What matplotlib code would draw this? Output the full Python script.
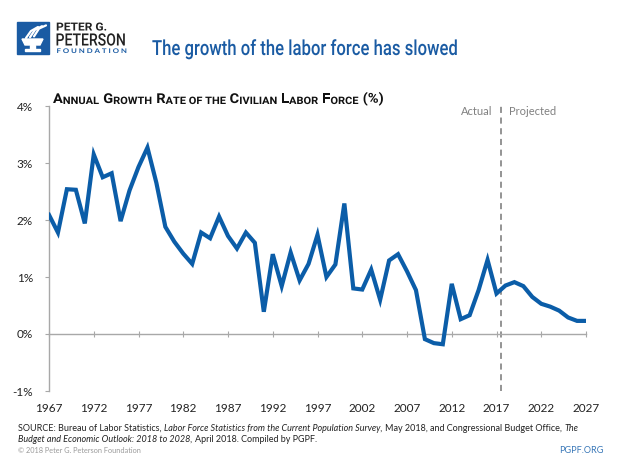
import matplotlib
matplotlib.use("Agg")
import matplotlib.pyplot as plt
from matplotlib.patches import Rectangle, Polygon
from matplotlib.ticker import FixedLocator, FuncFormatter
from matplotlib.patheffects import AbstractPathEffect
from matplotlib.transforms import Affine2D

# ---------------- data ----------------
years = list(range(1967, 2028))
growth = [2.09, 1.78, 2.54, 2.53, 1.94, 3.15, 2.75, 2.82, 1.98, 2.52,
          2.93, 3.27, 2.65, 1.88, 1.62, 1.41, 1.23, 1.78, 1.68, 2.06,
          1.72, 1.50, 1.78, 1.60, 0.39, 1.40, 0.84, 1.43, 0.94, 1.23,
          1.74, 1.00, 1.22, 2.29, 0.80, 0.78, 1.13, 0.60, 1.29, 1.40,
          1.10, 0.77, -0.09, -0.16, -0.18, 0.88, 0.26, 0.33, 0.77, 1.30,
          0.71, 0.85, 0.91, 0.84, 0.65, 0.53, 0.48, 0.41, 0.29, 0.23,
          0.23]
x_ticks = [1967, 1972, 1977, 1982, 1987, 1992, 1997, 2002, 2007, 2012, 2017, 2022, 2027]
y_ticks = [-1, 0, 1, 2, 3, 4]
split_year = 2017.5

title = "The growth of the labor force has slowed"
subtitle_parts = [("A", 1, 0), ("NNUAL", 0, 0), ("G", 1, 1), ("ROWTH", 0, 0),
                  ("R", 1, 1), ("ATE OF THE", 0, 0), ("C", 1, 1), ("IVILIAN", 0, 0),
                  ("L", 1, 1), ("ABOR", 0, 0), ("F", 1, 1), ("ORCE", 0, 0),
                  ("(%)", 1, 1)]

W, H = 620, 465
LINE_BLUE = "#0b5da8"
TITLE_BLUE = "#1a5ba3"
GRAY = "#a8a8a8"
HEAD = ["Roboto", "DejaVu Sans"]
BODY = ["Lato", "DejaVu Sans"]


class Condense(AbstractPathEffect):
    """Scale glyph outlines horizontally about a fixed display x."""

    def __init__(self, sx, x0):
        super().__init__()
        self.sx, self.x0 = sx, x0

    def draw_path(self, renderer, gc, tpath, affine, rgbFace=None):
        t = affine + Affine2D().translate(-self.x0, 0).scale(self.sx, 1).translate(self.x0, 0)
        renderer.draw_path(gc, tpath, t, rgbFace)


fig = plt.figure(figsize=(W / 100, H / 100), dpi=100)
fig.patch.set_facecolor("white")

bg = fig.add_axes([0, 0, 1, 1])
bg.set_xlim(0, W)
bg.set_ylim(H, 0)
bg.axis("off")

# ---------------- main chart ----------------
ax = fig.add_axes([49 / W, 1 - 391 / H, 537 / W, 285 / H])
ax.plot(years, growth, color=LINE_BLUE, lw=3.0, solid_joinstyle="miter", zorder=3)
ax.set_xlim(x_ticks[0], x_ticks[-1])
ax.set_ylim(y_ticks[0], y_ticks[-1])

for s in ["top", "right"]:
    ax.spines[s].set_visible(False)
ax.spines["left"].set_color(GRAY)
ax.spines["left"].set_linewidth(1.0)
ax.spines["bottom"].set_position(("data", 0))
ax.spines["bottom"].set_color(GRAY)
ax.spines["bottom"].set_linewidth(1.0)

ax.xaxis.set_major_locator(FixedLocator(x_ticks))
ax.tick_params(axis="x", direction="inout", length=4, color=GRAY, labelbottom=False)
ax.yaxis.set_major_locator(FixedLocator(y_ticks))
ax.yaxis.set_major_formatter(FuncFormatter(lambda v, p: f"{int(v)}%"))
ax.tick_params(axis="y", direction="out", length=3, color=GRAY, pad=8.5,
               labelsize=8.5, labelcolor="#222222")
for lab in ax.get_yticklabels():
    lab.set_family(BODY)

sec = ax.secondary_xaxis("bottom")
sec.set_xticks(x_ticks)
sec.set_xticklabels([str(t) for t in x_ticks])
sec.spines["bottom"].set_visible(False)
sec.tick_params(axis="x", length=0, pad=9, labelsize=8.5, labelcolor="#222222")
for lab in sec.get_xticklabels():
    lab.set_family(BODY)

ax.axvline(split_year, color="#777777", lw=1.1, ls=(0, (4, 3)), zorder=2)
ax.text(split_year - 0.9, 3.9, "Actual", ha="right", va="center", fontsize=8,
        color="#808080", family=BODY)
ax.text(split_year + 0.9, 3.9, "Projected", ha="left", va="center", fontsize=8,
        color="#808080", family=BODY)

# ---------------- header ----------------
bg.add_patch(Rectangle((17, 22), 32, 32, color=TITLE_BLUE, zorder=1))
for dx in (0, 4, 8):
    bg.plot([26 + dx, 31 + dx, 38 + dx], [38 - dx * 0.2, 31 - dx * 0.3, 27 - dx * 0.2],
            color="white", lw=1.6, solid_capstyle="round", zorder=2)
bg.add_patch(Polygon([(22, 39), (43, 39), (40, 45), (25, 45)], closed=True,
                     color="white", zorder=2))
bg.add_patch(Rectangle((30, 45), 5, 4, color="white", zorder=2))
bg.add_patch(Rectangle((25, 49), 15, 2.5, color="white", zorder=2))

header_items = []  # (list of texts, x_left, x_right_target)

t_peter = bg.text(56, 30.5, "PETER G.", fontsize=8, fontweight="bold", family=HEAD,
                  color="#222222", va="baseline", ha="left")
header_items.append(([t_peter], 56, 107))
t_peterson = bg.text(55.5, 45.5, "PETERSON", fontsize=12.2, family=HEAD,
                     fontweight="medium", color="#222222", va="baseline", ha="left")
header_items.append(([t_peterson], 55.5, 126))
t_found = bg.text(56.5, 53, " ".join("FOUNDATION"), fontsize=4.6, fontweight="bold",
                  family=BODY, color=TITLE_BLUE, va="baseline", ha="left")
header_items.append(([t_found], 56.5, 126))

t_title = bg.text(152, 55, title, fontsize=15, family=HEAD, fontweight="medium",
                  color=TITLE_BLUE, va="baseline", ha="left")
header_items.append(([t_title], 152, 459))

sub_texts = []
prev = bg.text(53, 103, subtitle_parts[0][0], fontsize=9.8, fontweight="bold",
               family=HEAD, color="#111111", va="baseline", ha="left")
sub_texts.append(prev)
for txt, big, gap in subtitle_parts[1:]:
    prev = bg.annotate(txt, xy=(1, 0), xycoords=prev, xytext=(3.0 * gap, 0),
                       textcoords="offset points", va="bottom", ha="left",
                       fontsize=9.8 if big else 7.4, fontweight="bold",
                       family=HEAD, color="#111111", annotation_clip=False)
    sub_texts.append(prev)
header_items.append((sub_texts, 53, 384))

# ---------------- footer ----------------
def chain(x, y, parts, size=6.5, color="#222222"):
    prev = None
    for txt, italic, gap in parts:
        style = "italic" if italic else "normal"
        if prev is None:
            prev = bg.text(x, y, txt, fontsize=size, style=style, family=BODY,
                           color=color, va="baseline", ha="left")
        else:
            prev = bg.annotate(txt, xy=(1, 0), xycoords=prev, xytext=(gap, 0),
                               textcoords="offset points", va="bottom", ha="left",
                               fontsize=size, style=style, family=BODY, color=color,
                               annotation_clip=False)

chain(18, 431, [("SOURCE: Bureau of Labor Statistics,", False, 0),
                ("Labor Force Statistics from the Current Population Survey,", True, 1.8),
                ("May 2018, and Congressional Budget Office,", False, 1.8),
                ("The", True, 1.8)])
chain(18, 442, [("Budget and Economic Outlook: 2018 to 2028,", True, 0),
                ("April 2018. Compiled by PGPF.", False, 1.8)])
bg.text(18, 453, "\u00a9 2018 Peter G. Peterson Foundation", fontsize=5.3,
        family=BODY, color="#9a9a9a", va="baseline", ha="left")
bg.text(603, 453, "PGPF.ORG", fontsize=6.6, family=BODY, color="#3a78b8",
        va="baseline", ha="right")

# horizontally condense header texts to the widths of the reference lettering
fig.canvas.draw()
renderer = fig.canvas.get_renderer()
for texts, xl, xr in header_items:
    x0 = min(t.get_window_extent(renderer).x0 for t in texts)
    x1 = max(t.get_window_extent(renderer).x1 for t in texts)
    sx = (xr - xl) / (x1 - x0)
    for t in texts:
        t.set_path_effects([Condense(sx, x0)])

fig.savefig("out.png", dpi=100)
